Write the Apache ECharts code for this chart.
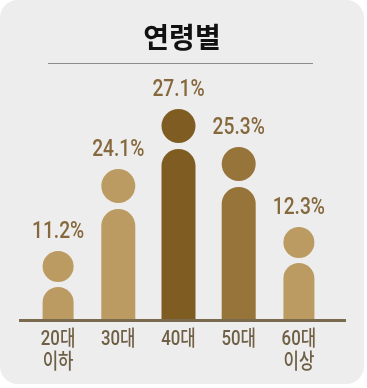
<!DOCTYPE html>
<html>
<head>
<meta charset="utf-8">
<script src="https://cdn.jsdelivr.net/npm/echarts@6/dist/echarts.min.js"></script>
<style>
  html, body { margin: 0; padding: 0; background: #ffffff; }
  #chart { width: 364px; height: 384px; background: #EDEDED; border-radius: 18px; overflow: hidden; }
</style>
</head>
<body>
<div id="chart"></div>
<script>
// age groups
const categories = ['20대\n이하', '30대', '40대', '50대', '60대\n이상']
// share shown above each figure (%)
const shares = [11.2, 24.1, 27.1, 25.3, 12.3]
// body height of each figure (axis units)
const bodyHeights = [33, 111, 171, 133, 57]

const figColors = ['#BB9B61', '#BB9B61', '#7E5C22', '#96743A', '#BB9B61']
const figWidths = [31, 34, 34, 34, 31]
const font = 'Roboto, "Noto Sans CJK KR", sans-serif'

let myChart = echarts.init(document.getElementById('chart'))
let option = {
  title: {
    text: '연령별',
    left: 'center',
    top: 18,
    textStyle: {
      fontFamily: '"Noto Sans CJK KR", sans-serif',
      fontSize: 28,
      fontWeight: 'bold',
      color: '#111111'
    }
  },
  graphic: [
    {
      type: 'line',
      shape: { x1: 48, y1: 63.5, x2: 313, y2: 63.5 },
      style: { stroke: '#8C8C8C', lineWidth: 1 }
    },
    {
      type: 'line',
      z: 100,
      shape: { x1: 19, y1: 320.5, x2: 346, y2: 320.5 },
      style: { stroke: '#7A6A4E', lineWidth: 3 }
    }
  ],
  grid: {
    left: 28,
    width: 301,
    top: 20,
    height: 300
  },
  xAxis: {
    type: 'category',
    data: categories,
    axisLine: { show: false },
    axisTick: { show: false },
    axisLabel: { show: false }
  },
  yAxis: {
    type: 'value',
    min: 0,
    max: 300,
    show: false
  },
  series: [
    {
      type: 'custom',
      data: bodyHeights.map((h, i) => [i, h]),
      renderItem: function (params, api) {
        const i = params.dataIndex
        const base = api.coord([api.value(0), 0])
        const top = api.coord([api.value(0), api.value(1)])
        const w = figWidths[i]
        const r = w / 2
        const gap = w > 32 ? 6 : 5
        const headCy = top[1] - gap - r
        const fill = figColors[i]
        return {
          type: 'group',
          children: [
            {
              type: 'rect',
              shape: { x: base[0] - r, y: top[1], width: w, height: base[1] - top[1], r: [r, r, 0, 0] },
              style: { fill: fill }
            },
            {
              type: 'circle',
              shape: { cx: base[0], cy: headCy, r: r },
              style: { fill: fill }
            },
            {
              type: 'text',
              x: base[0],
              y: headCy - r - 19,
              scaleX: 0.8,
              style: {
                text: shares[i].toFixed(1) + '%',
                x: 0,
                y: 0,
                align: 'center',
                verticalAlign: 'middle',
                fontFamily: font,
                fontSize: 24,
                fontWeight: 500,
                fill: '#85683C'
              }
            },
            {
              type: 'text',
              x: base[0],
              y: base[1] + 8,
              scaleX: 0.8,
              style: {
                text: categories[i],
                x: 0,
                y: 0,
                align: 'center',
                verticalAlign: 'top',
                fontFamily: font,
                fontSize: 21,
                lineHeight: 23,
                fontWeight: 500,
                fill: '#6F5F45'
              }
            }
          ]
        }
      }
    }
  ]
}
myChart.setOption(option)
</script>
</body>
</html>
